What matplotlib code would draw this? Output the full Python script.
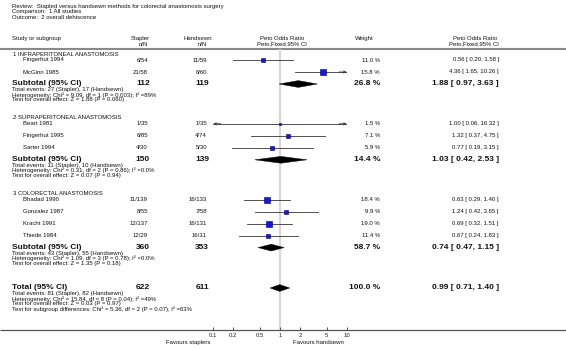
import matplotlib
matplotlib.use("Agg")
import matplotlib.pyplot as plt
from matplotlib.patches import Polygon

plt.rcParams['font.family'] = ['Liberation Sans', 'DejaVu Sans']

# ---------------- data ----------------
review = "Review:  Stapled versus handsewn methods for colorectal anastomosis surgery"
comparison = "Comparison:  1 All studies"
outcome = "Outcome:  2 overall dehiscence"

group_names = ["1 INFRAPERITONEAL ANASTOMOSIS",
               "2 SUPRAPERITONEAL ANASTOMOSIS",
               "3 COLORECTAL ANASTOMOSIS"]

study_names = [["Fingerhut 1994", "McGinn 1985"],
               ["Beart 1981", "Fingerhut 1995", "Sarter 1994"],
               ["Bhadad 1990", "Gonzalez 1987", "Kracht 1991", "Thiede 1984"]]
stapler_nN = [["6/54", "21/58"],
              ["1/35", "6/85", "4/30"],
              ["11/139", "8/55", "12/137", "12/29"]]
handsewn_nN = [["11/59", "6/60"],
               ["1/35", "4/74", "5/30"],
               ["16/133", "7/58", "16/131", "16/31"]]
weights = [[11.0, 15.8],
           [1.5, 7.1, 5.9],
           [18.4, 9.9, 19.0, 11.4]]
or_est = [[0.56, 4.36],
          [1.00, 1.32, 0.77],
          [0.63, 1.24, 0.69, 0.67]]
or_lo = [[0.20, 1.65],
         [0.06, 0.37, 0.19],
         [0.29, 0.42, 0.32, 0.24]]
or_hi = [[1.58, 10.26],
         [16.32, 4.75, 3.15],
         [1.40, 3.65, 1.51, 1.83]]

sub_stapler_N = [112, 150, 360]
sub_handsewn_N = [119, 139, 353]
sub_weight = [26.8, 14.4, 58.7]
sub_est = [1.88, 1.03, 0.74]
sub_lo = [0.97, 0.42, 0.47]
sub_hi = [3.63, 2.53, 1.15]
sub_notes = [
    ["Total events: 27 (Stapler), 17 (Handsewn)",
     "Heterogeneity: Chi\u00b2 = 9.09, df = 1 (P = 0.003); I\u00b2 =89%",
     "Test for overall effect: Z = 1.88 (P = 0.060)"],
    ["Total events: 11 (Stapler), 10 (Handsewn)",
     "Heterogeneity: Chi\u00b2 = 0.31, df = 2 (P = 0.86); I\u00b2 =0.0%",
     "Test for overall effect: Z = 0.07 (P = 0.94)"],
    ["Total events: 43 (Stapler), 55 (Handsewn)",
     "Heterogeneity: Chi\u00b2 = 1.09, df = 3 (P = 0.78); I\u00b2 =0.0%",
     "Test for overall effect: Z = 1.35 (P = 0.18)"],
]

tot_stapler_N = 622
tot_handsewn_N = 611
tot_weight = 100.0
tot_est, tot_lo, tot_hi = 0.99, 0.71, 1.40
tot_notes = ["Total events: 81 (Stapler), 82 (Handsewn)",
             "Heterogeneity: Chi\u00b2 = 15.84, df = 8 (P = 0.04); I\u00b2 =49%",
             "Test for overall effect: Z = 0.03 (P = 0.97)",
             "Test for subgroup differences: Chi\u00b2 = 5.36, df = 2 (P = 0.07), I\u00b2 =63%"]

tick_vals = [0.1, 0.2, 0.5, 1, 2, 5, 10]
tick_labels = ["0.1", "0.2", "0.5", "1", "2", "5", "10"]
favours_left = "Favours staplers"
favours_right = "Favours handsewn"

# ---------------- layout ----------------
W, H = 566, 348
fig = plt.figure(figsize=(W / 100, H / 100), dpi=100)
bg = fig.add_axes([0, 0, 1, 1])
bg.set_xlim(0, W)
bg.set_ylim(H, 0)
bg.axis('off')

axis_y = 330
top_y = 49
fx0, fx1 = 213.3, 346.7   # pixel span of 0.1 .. 10
ax = fig.add_axes([fx0 / W, (H - axis_y) / H, (fx1 - fx0) / W, (axis_y - top_y) / H])
ax.set_xscale('log')
ax.set_xlim(0.1, 10)
ax.set_ylim(axis_y, top_y)
ax.patch.set_alpha(0)
for s in ax.spines.values():
    s.set_visible(False)
ax.set_yticks([])
ax.set_xticks(tick_vals)
ax.set_xticklabels(tick_labels)
ax.minorticks_off()
ax.tick_params(axis='x', direction='in', length=2.5, width=0.6, color='#333333',
               labelsize=4.3, labelcolor='#222222', pad=2.5)

SMALL = 4.3
BIG = 6.0
TXT = '#111111'

def t(x, y, s, ha='left', size=SMALL, bold=False, color=TXT):
    bg.text(x, y, s, ha=ha, va='center', fontsize=size,
            fontweight='bold' if bold else 'normal', color=color)

# header
t(12, 6.5, review)
t(12, 12, comparison)
t(12, 17.5, outcome)
t(12, 38.5, "Study or subgroup")
t(150, 38.5, "Stapler", ha='right')
t(148, 44, "n/N", ha='right')
t(212, 38.5, "Handsewn", ha='right')
t(207, 44, "n/N", ha='right')
t(282, 38.5, "Peto Odds Ratio", ha='center')
t(282, 44, "Peto,Fixed,95% CI", ha='center')
t(364, 38.5, "Weight", ha='center')
t(497, 38.5, "Peto Odds Ratio", ha='right')
t(499, 44, "Peto,Fixed,95% CI", ha='right')

bg.plot([0, W], [top_y, top_y], color='#8a8a8a', lw=1.5, solid_capstyle='butt')
bg.plot([0, W], [axis_y, axis_y], color='#555555', lw=0.9, solid_capstyle='butt')

# reference line at 1
ax.plot([1, 1], [top_y, axis_y], color='#d8d8d8', lw=1.6, zorder=0)

COL_ST, COL_HS, COL_W, COL_CI = 148, 207, 380, 499

def ci_line(y, lo, hi, est, w):
    lo_c, hi_c = max(lo, 0.1), min(hi, 10)
    ax.plot([lo_c, hi_c], [y, y], color='#333333', lw=0.6, zorder=2)
    if lo < 0.1:
        ax.annotate('', xy=(0.1, y), xytext=(0.13, y),
                    arrowprops=dict(arrowstyle='->', color='#333333', lw=0.6,
                                    mutation_scale=4, shrinkA=0, shrinkB=0))
    if hi > 10:
        ax.annotate('', xy=(10, y), xytext=(7.7, y),
                    arrowprops=dict(arrowstyle='->', color='#333333', lw=0.6,
                                    mutation_scale=4, shrinkA=0, shrinkB=0))
    side_px = 2.0 + 0.2 * w
    ax.plot([est], [y], marker='s', markersize=side_px * 0.72,
            markerfacecolor='#1515e6', markeredgecolor='#000070',
            markeredgewidth=0.4, zorder=3)

def diamond(y, est, lo, hi, h=3.4):
    ax.add_patch(Polygon([(lo, y), (est, y - h), (hi, y), (est, y + h)],
                         closed=True, facecolor='black', edgecolor='black',
                         lw=0.3, zorder=3))

def ci_text(est, lo, hi):
    return f"{est:.2f} [ {lo:.2f}, {hi:.2f} ]"

y = 54
for g in range(len(group_names)):
    t(13, y, group_names[g])
    y += 6
    for i in range(len(study_names[g])):
        t(23, y, study_names[g][i])
        t(COL_ST, y, stapler_nN[g][i], ha='right')
        t(COL_HS, y, handsewn_nN[g][i], ha='right')
        t(COL_W, y, f"{weights[g][i]:.1f} %", ha='right')
        t(COL_CI, y, ci_text(or_est[g][i], or_lo[g][i], or_hi[g][i]), ha='right')
        ci_line(y, or_lo[g][i], or_hi[g][i], or_est[g][i], weights[g][i])
        y += 12
    t(12, y - 0.5, "Subtotal (95% CI)", size=BIG, bold=True)
    t(COL_ST + 2, y - 0.5, str(sub_stapler_N[g]), ha='right', size=BIG, bold=True)
    t(COL_HS + 2, y - 0.5, str(sub_handsewn_N[g]), ha='right', size=BIG, bold=True)
    t(COL_W, y - 0.5, f"{sub_weight[g]:.1f} %", ha='right', size=BIG, bold=True)
    t(COL_CI, y - 0.5, ci_text(sub_est[g], sub_lo[g], sub_hi[g]), ha='right', size=BIG, bold=True)
    diamond(y, sub_est[g], sub_lo[g], sub_hi[g])
    ny = y + 5.8
    for line in sub_notes[g]:
        t(12, ny, line)
        ny += 5.0
    y = ny + 13.0

y = 288
t(12, y - 0.5, "Total (95% CI)", size=BIG, bold=True)
t(COL_ST + 2, y - 0.5, str(tot_stapler_N), ha='right', size=BIG, bold=True)
t(COL_HS + 2, y - 0.5, str(tot_handsewn_N), ha='right', size=BIG, bold=True)
t(COL_W, y - 0.5, f"{tot_weight:.1f} %", ha='right', size=BIG, bold=True)
t(COL_CI, y - 0.5, ci_text(tot_est, tot_lo, tot_hi), ha='right', size=BIG, bold=True)
diamond(y, tot_est, tot_lo, tot_hi)
ny = y + 5.8
for line in tot_notes:
    t(12, ny, line)
    ny += 5.0

t(210, 342.5, favours_left, ha='right')
t(293, 342.5, favours_right, ha='left')

fig.savefig("out.png", dpi=100)
